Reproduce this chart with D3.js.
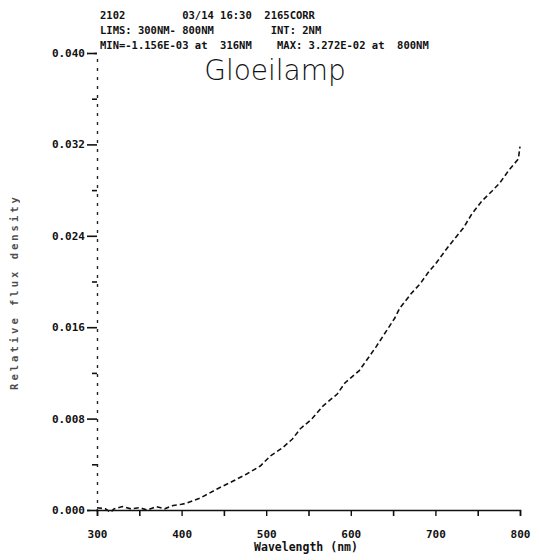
<!DOCTYPE html>
<html>
<head>
<meta charset="utf-8">
<script src="https://cdn.jsdelivr.net/npm/d3@7"></script>
<style>
  html, body { margin: 0; padding: 0; background: #fff; }
  svg { display: block; }
  text { fill: #111; }
  .mono { font-family: "DejaVu Sans Mono", monospace; font-weight: bold; white-space: pre; }
</style>
</head>
<body>
<svg id="chart" width="539" height="560"></svg>
<script>
// ---- data ----
const headerLines = [
  "2102         03/14 16:30  2165CORR",
  "LIMS: 300NM- 800NM         INT: 2NM",
  "MIN=-1.156E-03 at  316NM    MAX: 3.272E-02 at  800NM"
];
const title = "Gloeilamp";
const xLabel = "Wavelength (nm)";
const yLabel = "Relative flux density";
const wavelengths = [300, 310, 316, 320, 330, 340, 350, 360, 370, 380, 390, 400, 406, 422, 442, 461, 477, 493, 505, 519, 531, 540, 554, 567, 584, 593, 610, 630, 652, 658, 672, 682, 691, 700, 714, 733, 743, 755, 767, 776, 787, 798, 800];
const values = [0.0002, 0.0001, -0.0002, 0.0001, 0.0003, 0.0001, 0.0002, 0.0000, 0.0003, 0.0001, 0.0004, 0.0005, 0.0006, 0.00105, 0.00184, 0.00254, 0.00315, 0.00385, 0.00473, 0.00543, 0.00621, 0.00709, 0.00797, 0.0091, 0.01015, 0.01112, 0.0122, 0.0143, 0.0168, 0.01768, 0.0190, 0.0198, 0.02074, 0.02153, 0.02293, 0.02468, 0.0259, 0.02705, 0.02792, 0.02862, 0.02976, 0.03072, 0.0318];
const xTickValues = [300, 400, 500, 600, 700, 800];
const xMinorTicks = [350, 450, 550, 650, 750];
const yTickValues = [0, 0.008, 0.016, 0.024, 0.032, 0.040];
const yTickLabels = ["0.000", "0.008", "0.016", "0.024", "0.032", "0.040"];
const yMinorTicks = [0.004, 0.012, 0.020, 0.028, 0.036];

// ---- layout ----
const svg = d3.select("#chart");
const x = d3.scaleLinear().domain([300, 800]).range([97, 520]);
const y = d3.scaleLinear().domain([0, 0.040]).range([510, 53]);

// header
svg.selectAll("text.header").data(headerLines).enter().append("text")
  .attr("class", "mono header")
  .attr("x", 100).attr("y", (d, i) => 19 + i * 15)
  .style("font-size", "10.5px")
  .text(d => d);

// handwritten title
svg.append("text")
  .attr("x", 275).attr("y", 80)
  .attr("text-anchor", "middle")
  .style("font-family", "'DejaVu Sans', sans-serif")
  .style("font-weight", "300")
  .style("font-size", "28px")
  .text(title);

// y axis (dotted, as printed)
const yAxis = d3.axisLeft(y).tickValues(yTickValues)
  .tickFormat((d, i) => yTickLabels[i]).tickSize(10).tickPadding(2);
const gy = svg.append("g").attr("transform", "translate(97,0)").call(yAxis);
gy.select(".domain").attr("stroke", "#222").attr("stroke-width", 1.4).attr("stroke-dasharray", "3,6");
gy.selectAll(".tick line").attr("stroke", "#111").attr("stroke-width", 1.6);
gy.selectAll(".tick text").attr("class", "mono").style("font-size", "11px");
const gy2 = svg.append("g").attr("transform", "translate(97,0)")
  .call(d3.axisLeft(y).tickValues(yMinorTicks).tickSize(5).tickFormat(""));
gy2.select(".domain").remove();
gy2.selectAll(".tick line").attr("stroke", "#111").attr("stroke-width", 1.6);

// x axis
const xAxis = d3.axisBottom(x).tickValues(xTickValues).tickSize(6).tickPadding(14);
const gx = svg.append("g").attr("transform", "translate(0,510)").call(xAxis);
gx.select(".domain").attr("stroke", "#111").attr("stroke-width", 1.6);
gx.selectAll(".tick line").attr("stroke", "#111").attr("stroke-width", 1.4);
gx.selectAll(".tick text").attr("class", "mono").style("font-size", "11px");
const gx2 = svg.append("g").attr("transform", "translate(0,510)")
  .call(d3.axisBottom(x).tickValues(xMinorTicks).tickSize(6).tickFormat(""));
gx2.select(".domain").remove();
gx2.selectAll(".tick line").attr("stroke", "#111").attr("stroke-width", 1.6);

// axis titles
svg.append("text").attr("class", "mono")
  .attr("x", 306).attr("y", 551).attr("text-anchor", "middle")
  .style("font-size", "11.5px").text(xLabel);
svg.append("text").attr("class", "mono")
  .attr("transform", "translate(18,292) rotate(-90)").attr("text-anchor", "middle")
  .style("font-size", "10.5px").style("letter-spacing", "3px").attr("opacity", 0.75)
  .text(yLabel);

// curve
const pts = wavelengths.map((w, i) => [w, values[i]]);
svg.append("path").datum(pts)
  .attr("fill", "none").attr("stroke", "#111").attr("stroke-width", 1.6)
  .attr("stroke-dasharray", "5,3")
  .attr("d", d3.line().x(d => x(d[0])).y(d => y(d[1])));
</script>
</body>
</html>
